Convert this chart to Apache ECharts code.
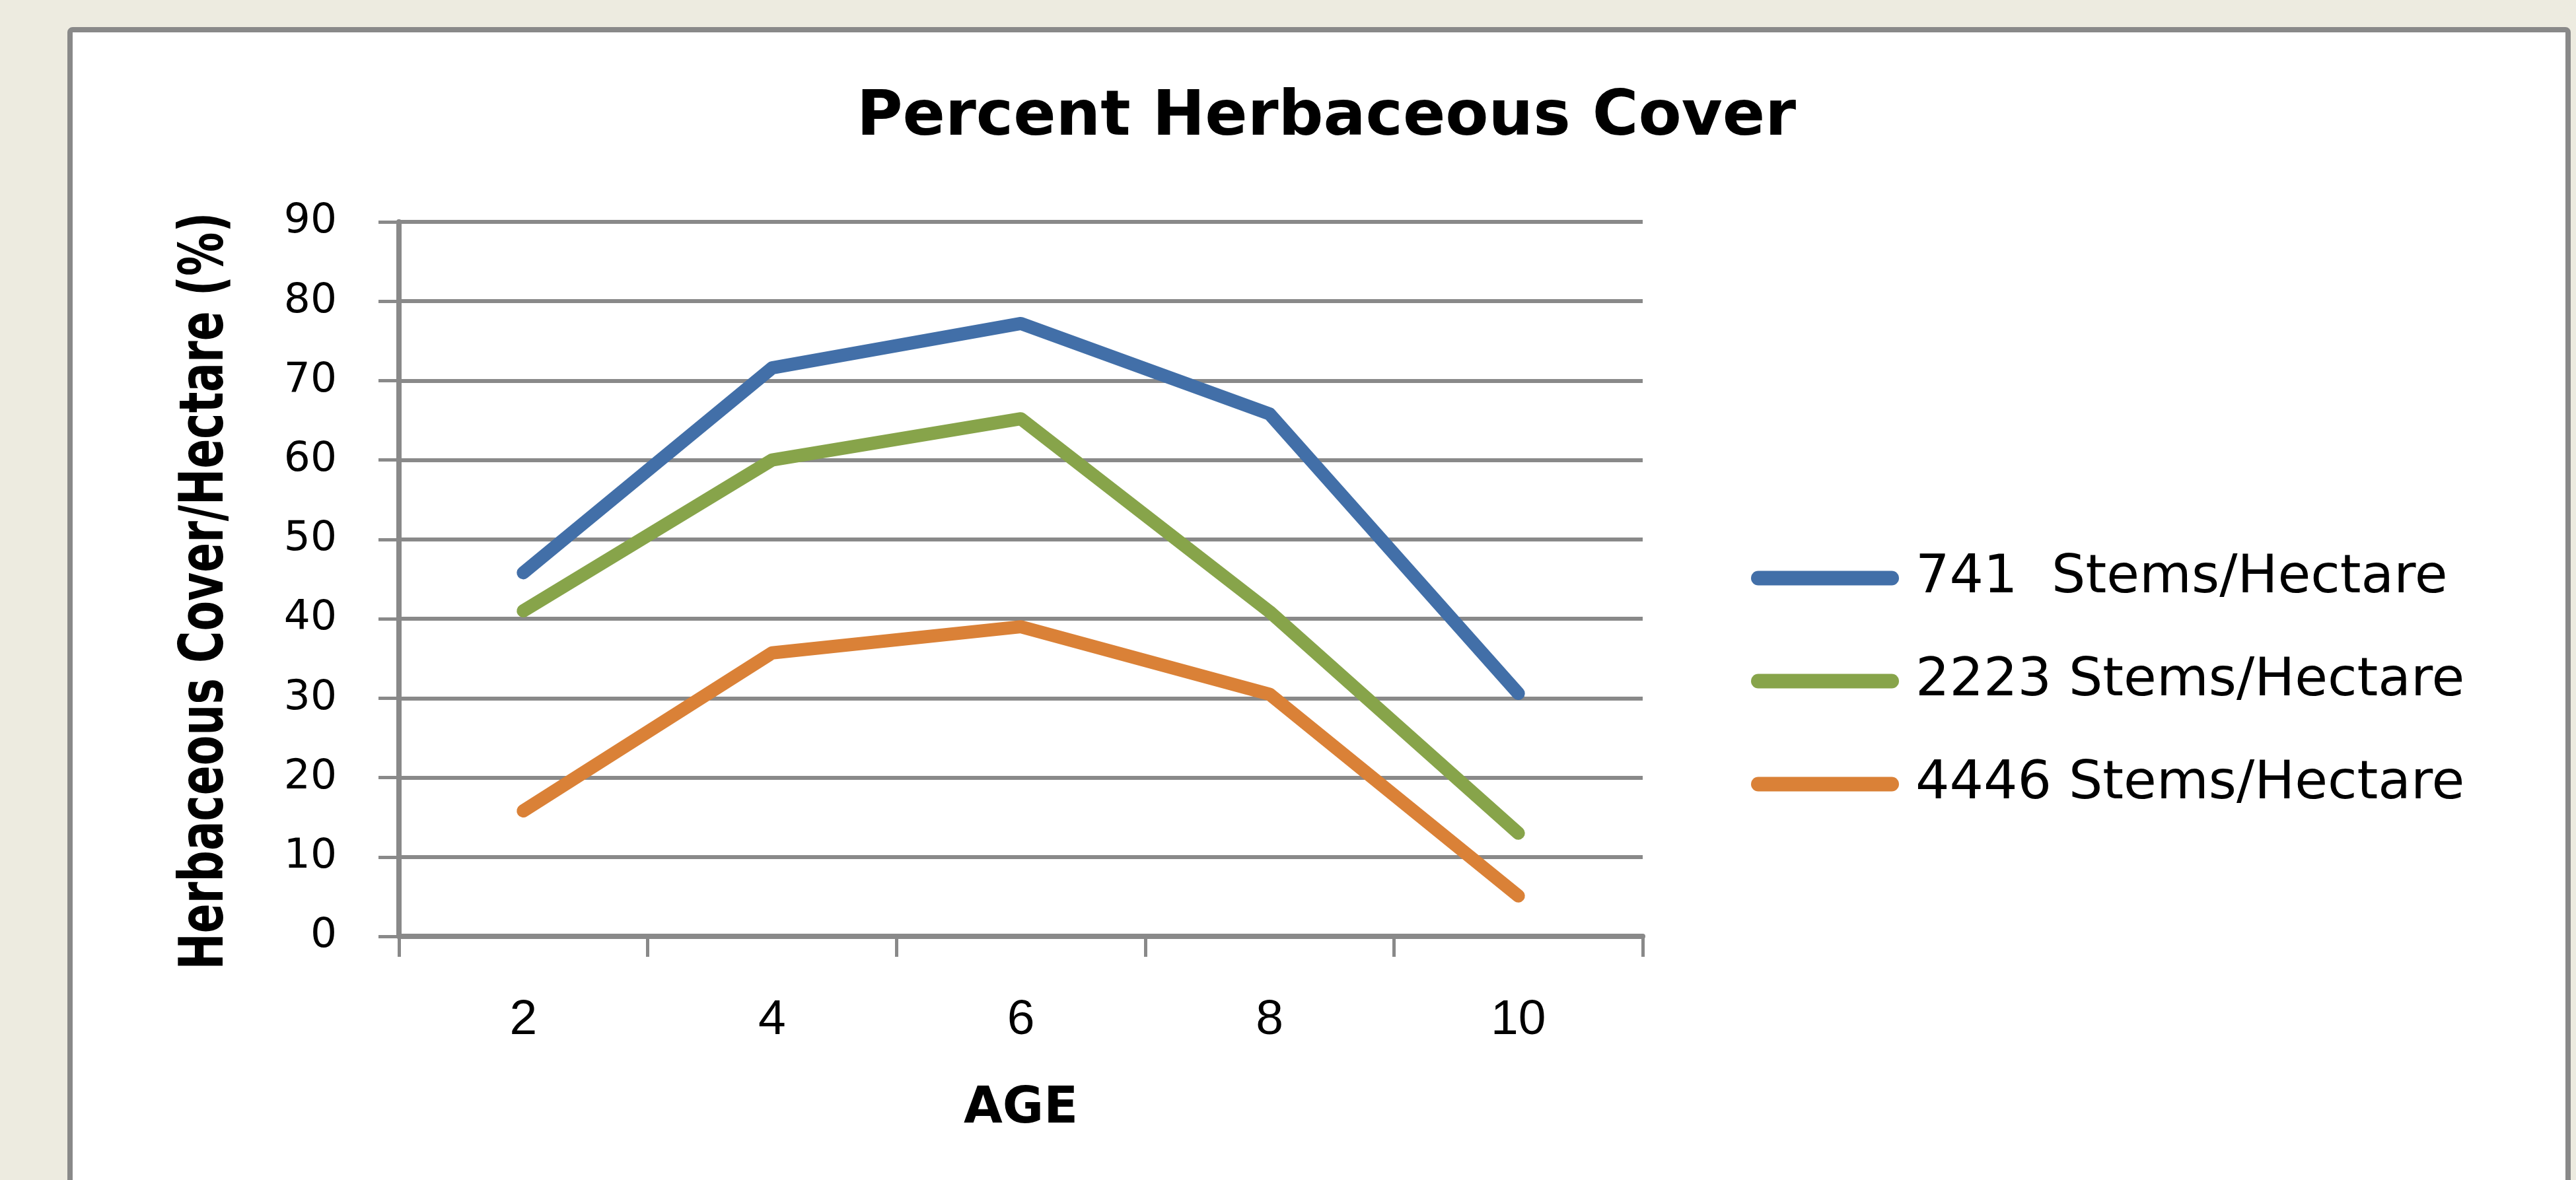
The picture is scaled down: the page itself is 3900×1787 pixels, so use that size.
<!DOCTYPE html>
<html>
<head>
<meta charset="utf-8">
<title>Percent Herbaceous Cover</title>
<script src="https://cdn.jsdelivr.net/npm/echarts@6/dist/echarts.min.js"></script>
<style>
  html, body { margin: 0; padding: 0; background: #EDEBE0; }
  #chart { width: 3900px; height: 1787px; }
</style>
</head>
<body>
<div id="chart"></div>
<script>
// Stand age (years) on the x axis
const ages = ['2', '4', '6', '8', '10'];

// Herbaceous cover (%) per planting density
const seriesNames = ['741  Stems/Hectare', '2223 Stems/Hectare', '4446 Stems/Hectare'];
const cover741 = [45.8, 71.6, 77.2, 65.8, 30.6];
const cover2223 = [41.0, 60.0, 65.2, 40.9, 13.0];
const cover4446 = [15.8, 35.7, 39.0, 30.5, 5.1];

const yTitle = 'Herbaceous Cover/Hectare (%)';

const lineColors = ['#426FA8', '#87A44A', '#DA8137'];
const gray = '#898989';

// capsule-shaped legend key
const capsule = 'path://M11,0 H213 A11,11 0 0 1 213,22 H11 A11,11 0 0 1 11,0 Z';

const chart = echarts.init(document.getElementById('chart'), null, { renderer: 'canvas' });

function lineSeries(name, data, color) {
  return {
    name: name,
    type: 'line',
    data: data,
    showSymbol: false,
    symbol: 'none',
    color: color,
    lineStyle: { width: 20, color: color, cap: 'round', join: 'round' },
    z: 5
  };
}

chart.setOption({
  backgroundColor: '#EDEBE0',
  animation: false,
  graphic: [{
    type: 'rect',
    z: -100,
    silent: true,
    shape: { x: 106, y: 45, width: 3782, height: 1800, r: 4 },
    style: { fill: '#FFFFFF', stroke: gray, lineWidth: 8 }
  }, {
    // condensed vertical title of the value axis
    type: 'text',
    silent: true,
    x: 313,
    y: 895,
    rotation: Math.PI / 2,
    scaleX: 0.72,
    style: {
      text: yTitle,
      fontFamily: 'DejaVu Sans',
      fontWeight: 'bold',
      fontSize: 92,
      fill: '#000000',
      align: 'center',
      verticalAlign: 'middle',
      textAlign: 'center',
      textVerticalAlign: 'middle'
    }
  }],
  title: {
    text: 'Percent Herbaceous Cover',
    left: 2003,
    top: 127,
    textAlign: 'center',
    textStyle: {
      fontFamily: 'DejaVu Sans',
      fontWeight: 'bold',
      fontSize: 95,
      color: '#000000'
    }
  },
  legend: {
    orient: 'vertical',
    left: 2646,
    top: 830,
    itemWidth: 224,
    itemHeight: 22,
    itemGap: 75,
    icon: capsule,
    data: seriesNames,
    textStyle: {
      fontFamily: 'DejaVu Sans',
      fontSize: 81,
      lineHeight: 80,
      color: '#000000',
      padding: [0, 0, 0, 20]
    }
  },
  grid: {
    left: 604,
    right: 1413,
    top: 336,
    bottom: 369,
    containLabel: false
  },
  xAxis: {
    type: 'category',
    data: ages,
    boundaryGap: true,
    name: 'AGE',
    nameLocation: 'middle',
    nameGap: 224,
    nameTextStyle: {
      fontFamily: 'DejaVu Sans',
      fontWeight: 'bold',
      fontSize: 76,
      color: '#000000'
    },
    axisLine: { show: true, lineStyle: { color: gray, width: 8 } },
    axisTick: { show: true, length: 31, alignWithLabel: false, lineStyle: { color: gray, width: 5 } },
    axisLabel: {
      margin: 90,
      fontFamily: 'Liberation Sans',
      fontSize: 75,
      color: '#000000'
    },
    splitLine: { show: false }
  },
  yAxis: {
    type: 'value',
    min: 0,
    max: 90,
    interval: 10,
    axisLine: { show: true, lineStyle: { color: gray, width: 8 } },
    axisTick: { show: true, length: 31, lineStyle: { color: gray, width: 5 } },
    axisLabel: {
      margin: 94,
      fontFamily: 'DejaVu Sans',
      fontSize: 63,
      color: '#000000'
    },
    splitLine: { show: true, lineStyle: { color: gray, width: 6 } }
  },
  series: [
    lineSeries(seriesNames[0], cover741, lineColors[0]),
    lineSeries(seriesNames[1], cover2223, lineColors[1]),
    lineSeries(seriesNames[2], cover4446, lineColors[2])
  ]
});
</script>
</body>
</html>
